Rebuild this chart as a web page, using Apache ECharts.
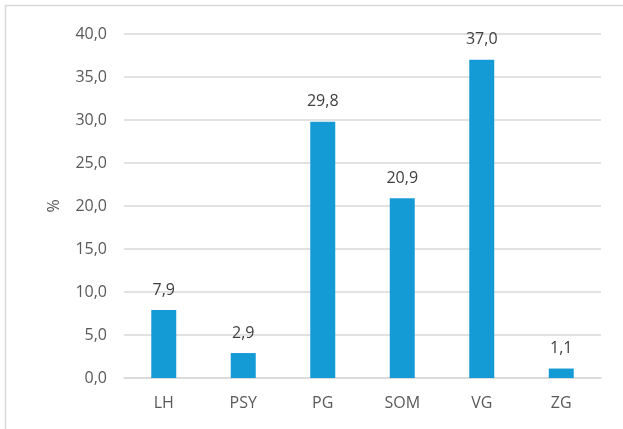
<!DOCTYPE html>
<html><head><meta charset="utf-8">
<script src="https://cdn.jsdelivr.net/npm/echarts@6/dist/echarts.min.js"></script>
<style>html,body{margin:0;padding:0;background:#fff}#c{width:623px;height:429px}</style>
</head><body><div id="c"></div>
<script>
var categories = ['LH', 'PSY', 'PG', 'SOM', 'VG', 'ZG'];
var values = [7.9, 2.9, 29.8, 20.9, 37.0, 1.1];
var yTicks = [0, 5, 10, 15, 20, 25, 30, 35, 40];

var chart = echarts.init(document.getElementById('c'));
var fontFam = '"Open Sans", "DejaVu Sans", sans-serif';
chart.setOption({
  animation: false,
  textStyle: {fontFamily: fontFam},
  graphic: [{
    type: 'rect', silent: true,
    shape: {x: 5.5, y: 5.5, width: 700, height: 500},
    style: {fill: 'none', stroke: '#d9d9d9', lineWidth: 1.5}
  }],
  grid: {left: 124, right: 22, top: 34, bottom: 51},
  xAxis: {
    type: 'category', data: categories,
    axisLine: {lineStyle: {color: '#d9d9d9', width: 1.5}},
    axisTick: {show: false},
    axisLabel: {color: '#595959', fontSize: 16, margin: 17, fontFamily: fontFam}
  },
  yAxis: {
    type: 'value', min: yTicks[0], max: yTicks[yTicks.length - 1], interval: 5,
    name: '%', nameLocation: 'middle', nameGap: 62, nameRotate: 90,
    nameTextStyle: {color: '#595959', fontSize: 16, fontFamily: fontFam},
    axisLine: {show: false}, axisTick: {show: false},
    axisLabel: {color: '#595959', fontSize: 16, margin: 17, fontFamily: fontFam,
      formatter: function (v) { return v.toFixed(1).replace('.', ','); }},
    splitLine: {lineStyle: {color: '#d9d9d9', width: 1.5}}
  },
  series: [{
    type: 'bar', data: values, barWidth: 25,
    itemStyle: {color: '#149bd6'},
    label: {show: true, position: 'top', distance: 12, color: '#404040', fontSize: 16, fontFamily: fontFam,
      formatter: function (p) { return p.value.toFixed(1).replace('.', ','); }}
  }]
});
</script></body></html>
